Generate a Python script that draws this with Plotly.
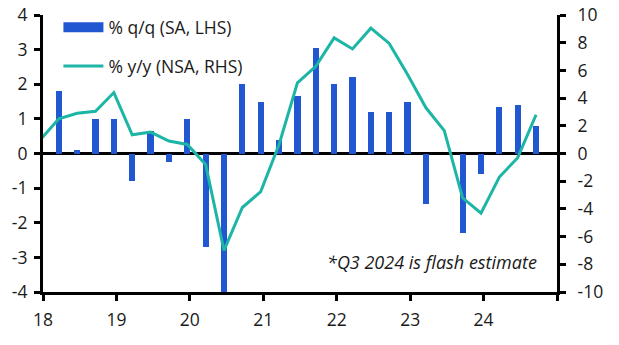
import plotly.graph_objects as go

# Quarterly GDP growth, 2018Q1 - 2024Q3 (Q3 2024 flash)
bar_quarters = [f"{y}Q{q}" for y in range(2018, 2025) for q in range(1, 5)][:27]
qq_growth = [1.8, 0.1, 1.0, 1.0, -0.8, 0.65, -0.25, 1.0, -2.7, -4.0, 2.0, 1.5,
             0.4, 1.65, 3.05, 2.0, 2.2, 1.2, 1.2, 1.5, -1.45, 0.0, -2.3, -0.6,
             1.35, 1.4, 0.8]

# y/y series starts one quarter earlier (its first segment runs in from the left edge)
line_quarters = ["2017Q4"] + bar_quarters
yy_growth = [1.0, 2.5, 2.9, 3.05, 4.4, 1.35, 1.55, 0.9, 0.65, -0.8, -7.0, -3.9,
             -2.75, 0.65, 5.1, 6.3, 8.35, 7.55, 9.05, 7.95, 5.7, 3.3, 1.65, -3.2,
             -4.3, -1.7, -0.3, 2.8]

year_ticks = list(range(2018, 2026))
year_labels = ["18", "19", "20", "21", "22", "23", "24", ""]
left_ticks = [-4, -3, -2, -1, 0, 1, 2, 3, 4]
right_ticks = [-10, -8, -6, -4, -2, 0, 2, 4, 6, 8, 10]

BLUE = "#2157D0"
TEAL = "#1DB5A5"
TEXT = "#1a1a1a"
FONT = "Open Sans"
SIZE = 17.5


def to_decimal(q):
    """Place each quarter's observation late in the quarter on a decimal-year axis."""
    year, qtr = int(q[:4]), int(q[-1])
    return year + 0.25 * (qtr - 1) + 0.215


bar_x = [to_decimal(q) for q in bar_quarters]
line_x = [to_decimal(q) for q in line_quarters]

fig = go.Figure()
fig.add_trace(go.Bar(x=bar_x, y=qq_growth, width=0.085, marker_color=BLUE,
                     marker_line_width=0, showlegend=False, yaxis="y"))
fig.add_trace(go.Scatter(x=line_x, y=yy_growth, mode="lines",
                         line=dict(color=TEAL, width=3), showlegend=False,
                         yaxis="y2"))

# legend entries
fig.add_trace(go.Scatter(x=[None], y=[None], mode="lines", name="% q/q (SA, LHS)",
                         line=dict(color=BLUE, width=10), legendgroup="a"))
fig.add_trace(go.Scatter(x=[None], y=[None], mode="lines", name="% y/y (NSA, RHS)",
                         line=dict(color=TEAL, width=3), legendgroup="b"))

axis_common = dict(showgrid=False, showline=True, linecolor="black", linewidth=3,
                   ticks="outside", ticklen=6, tickwidth=3, tickcolor="black",
                   automargin=False,
                   tickfont=dict(family=FONT, size=SIZE, color=TEXT))

fig.update_layout(
    width=619, height=345,
    margin=dict(l=43, r=62, t=15, b=53, autoexpand=False),
    paper_bgcolor="white", plot_bgcolor="white",
    font=dict(family=FONT, size=SIZE, color=TEXT),
    bargap=0,
    xaxis=dict(range=[2018, 2025], tickvals=year_ticks, ticktext=year_labels,
               zeroline=False, ticklabelstandoff=4, **axis_common),
    yaxis=dict(range=[-4, 4], tickvals=left_ticks,
               ticktext=[str(v) for v in left_ticks],
               zeroline=True, zerolinecolor="black", zerolinewidth=3,
               layer="above traces", ticklabelstandoff=3, **axis_common),
    yaxis2=dict(range=[-10, 10], tickvals=right_ticks,
                ticktext=[str(v) for v in right_ticks],
                overlaying="y", side="right", zeroline=False,
                ticklabelstandoff=8, **axis_common),
    legend=dict(x=0.03, y=1.02, xanchor="left", yanchor="top",
                bgcolor="rgba(0,0,0,0)", font=dict(family=FONT, size=SIZE, color=TEXT),
                tracegroupgap=13, itemwidth=40),
    annotations=[dict(text="*Q3 2024 is flash estimate", xref="paper", yref="paper",
                      x=0.965, y=0.108, xanchor="right", yanchor="middle",
                      showarrow=False,
                      font=dict(family=FONT, size=18, color=TEXT, style="italic"))],
)

fig.write_html("out.html")
